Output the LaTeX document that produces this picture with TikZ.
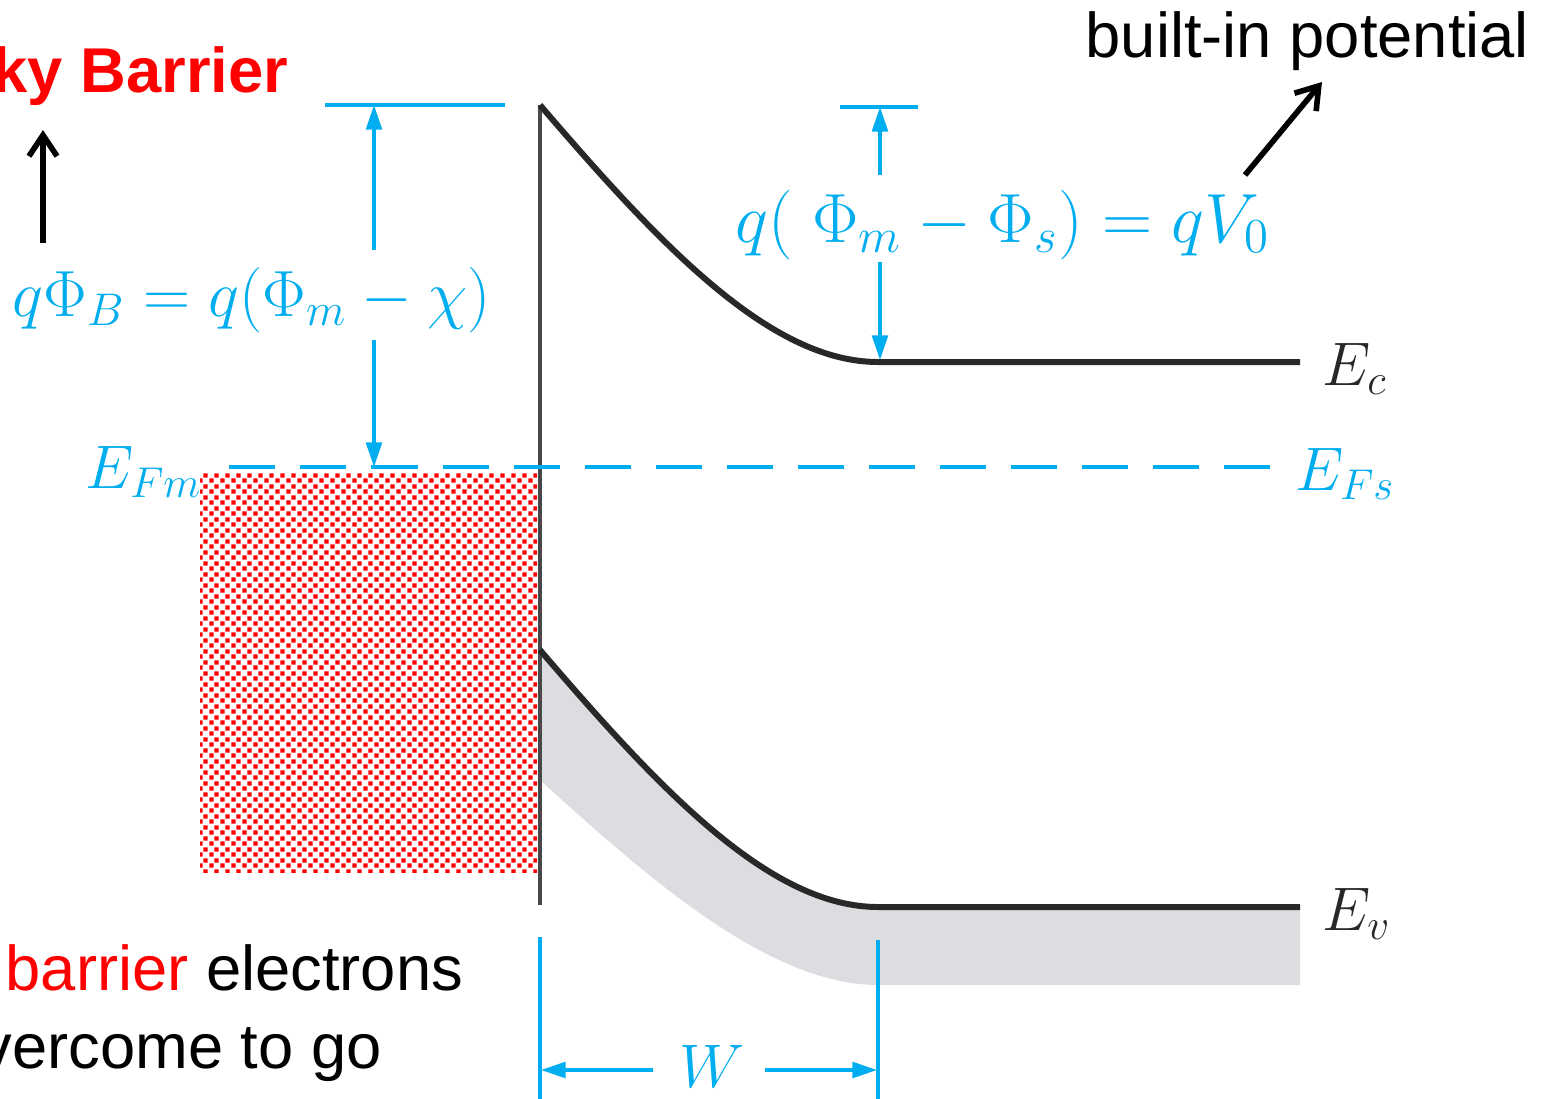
\RequirePackage{fix-cm}
\documentclass[tikz,border=0pt]{standalone}
\usepackage[no-math]{fontspec}
\setmainfont{Liberation Sans}
\usepackage{tikz}
\usetikzlibrary{arrows.meta,patterns.meta}
\definecolor{bandblue}{RGB}{0,174,239}
\definecolor{bandgray}{RGB}{220,221,224}
\definecolor{bandline}{RGB}{40,40,40}
\definecolor{metalred}{RGB}{255,0,0}
\tikzdeclarepattern{
  name=metaldots,
  type=uncolored,
  bounding box={(0,0) and (1.1mm,1.1mm)},
  tile size={(1.1mm,1.1mm)},
  code={
    \fill (0.03mm,0.03mm) rectangle (0.5mm,0.5mm);
    \fill (0.58mm,0.58mm) rectangle (1.05mm,1.05mm);
  }
}

\begin{document}
\begin{tikzpicture}[x=0.01cm,y=-0.01cm,
band/.style={line width=1.7pt,draw=bandline},
level/.style={line width=0.9pt,draw=bandblue},
fermi/.style={line width=0.9pt,draw=bandblue,dash pattern=on 0.46cm off 0.25cm},
dimarc/.style={-{Triangle[length=7pt,width=4.5pt]},line width=0.9pt,draw=bandblue,fill=bandblue},
note/.style={-{Straight Barb[length=6pt,width=8pt]},line width=1.6pt},
lbl/.style={text=bandblue,inner sep=0pt,anchor=base west,font=\fontsize{17.5}{21}\selectfont},
txt/.style={inner sep=0pt,anchor=base west,font=\fontsize{18}{22}\selectfont}]
\useasboundingbox[fill=white] (0,0) rectangle (1550,1099);

% metal side
\fill[pattern=metaldots,pattern color=metalred] (200,472) rectangle (537,872);

% valence band shading and bands
\fill[bandgray] (540,650) .. controls (660,790) and (770,907) .. (878,907) -- (1300,907)
  -- (1300,985) -- (878,985) .. controls (770,985) and (650,880) .. (540,780) -- cycle;
\draw[line width=1.1pt,draw=bandline!85] (540,105) -- (540,905);
\draw[band] (540,105) .. controls (660,245) and (770,362) .. (878,362) -- (1300,362);
\draw[band] (540,650) .. controls (660,790) and (770,907) .. (878,907) -- (1300,907);

% Fermi levels
\draw[fermi] (1270,467) -- (210,467);

% labels
\node[lbl] (efm) at (85,488) {$E_{Fm}$};
\node[lbl] (efs) at (1295,490) {$E_{Fs}$};
\node[lbl,text=bandline] (ecl) at (1322,385) {$E_c$};
\node[lbl,text=bandline] (evl) at (1322,930) {$E_v$};
\node[lbl,font=\fontsize{18.6}{22}\selectfont] (phib) at (12,316) {$q\Phi_B = q(\Phi_m - \chi)$};
\node[lbl,font=\fontsize{19.8}{24}\selectfont] (qvo) at (735,242) {$q(\;\Phi_m - \Phi_s) = qV_0$};

% barrier height
\coordinate (phibtop) at (374,105);
\coordinate (phibup) at (374,250);
\coordinate (phibdown) at (374,340);
\coordinate (phibfermi) at (374,467);
\draw[level] (325,105) -- (505,105);
\draw[dimarc] (phibup) -- (phibtop);
\draw[dimarc] (phibdown) -- (phibfermi);

% built-in potential
\coordinate (vtop) at (880,107);
\coordinate (vup) at (880,175);
\coordinate (vdown) at (880,262);
\coordinate (vbottom) at (880,360);
\draw[level] (840,107) -- (918,107);
\draw[dimarc] (vup) -- (vtop);
\draw[dimarc] (vdown) -- (vbottom);

% depletion width
\draw[level] (540,937) -- (540,1099);
\draw[level] (878,940) -- (878,1099);
\node[lbl,anchor=center] (wl) at (712,1066) {$W$};
\coordinate (wleft) at (541,1070);
\coordinate (wright) at (877,1070);
\draw[dimarc] (wl.west |- wleft) ++(-26,0) -- (wleft);
\draw[dimarc] (wl.east |- wright) ++(20,0) -- (wright);

% annotations
\node[txt,text=metalred,font=\fontsize{18}{22}\selectfont\bfseries] (schottky) at (-8,92) {ky Barrier};
\coordinate (schottkytail) at (43,243);
\coordinate (schottkyhead) at (43,130);
\draw[note] (schottkytail) -- (schottkyhead);
\node[txt] (builtin) at (1085,57) {built-in potential};
\coordinate (builtintail) at (1245,175);
\coordinate (builtinhead) at (1322,82);
\draw[note] (builtintail) -- (builtinhead);
\node[txt] (barrierline) at (5,990) {\textcolor{metalred}{barrier} electrons};
\node[txt] (overline) at (-20,1068) {vercome to go};
\end{tikzpicture}
\end{document}
